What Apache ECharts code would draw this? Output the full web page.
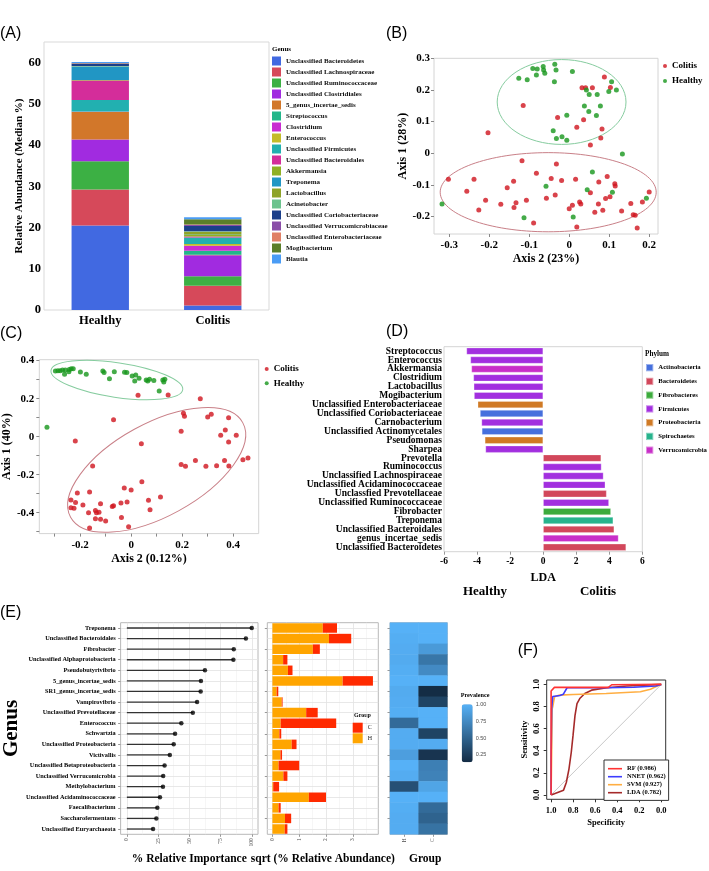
<!DOCTYPE html>
<html>
<head>
<meta charset="utf-8">
<script src="https://cdn.jsdelivr.net/npm/echarts@6/dist/echarts.min.js"></script>
<style>
  html, body { margin: 0; padding: 0; background: #fff; }
  #chart { width: 709px; height: 871px; }
</style>
</head>
<body>
<div id="chart"></div>
<script>
// (A) median relative abundance per genus
const groupsA = ['Healthy', 'Colitis']
const genusA = ['Unclassified Bacteroidetes', 'Unclassified Lachnospiraceae', 'Unclassified Ruminococcaceae',
  'Unclassified Clostridiales', '5_genus_incertae_sedis', 'Streptococcus', 'Clostridium', 'Enterococcus',
  'Unclassified Firmicutes', 'Unclassified Bacteroidales', 'Akkermansia', 'Treponema', 'Lactobacillus',
  'Acinetobacter', 'Unclassified Coriobacteriaceae', 'Unclassified Verrucomicrobiaceae',
  'Unclassified Enterobacteriaceae', 'Mogibacterium', 'Blautia']
const healthyA = [20.5, 8.7, 6.85, 5.3, 6.7, 0.05, 0.05, 0.02, 2.75, 4.75, 0.1, 3.3, 0.05, 0.05, 0.5, 0.1, 0.05, 0.1, 0.2]
const colitisA = [1.1, 4.8, 2.3, 5.1, 0.1, 1.0, 1.2, 0.4, 1.6, 0.25, 0.5, 0.1, 0.5, 0.15, 1.3, 0.2, 0.15, 1.25, 0.5]
const ticksA = [0, 10, 20, 30, 40, 50, 60]

// (B) PCoA, axis 2 vs axis 1
const colitisB = [[0.088, 0.241], [0.032, 0.207], [0.041, 0.207], [0.058, 0.207], [0.103, 0.208], [-0.115, 0.151],
  [-0.029, 0.113], [0.036, 0.106], [0.019, 0.082], [0.082, 0.077], [0.079, 0.048], [-0.203, 0.065], [0.053, 0.026],
  [-0.118, -0.024], [-0.032, -0.034], [-0.082, -0.063], [-0.302, -0.082], [-0.238, -0.082], [-0.139, -0.088],
  [-0.045, -0.080], [-0.019, -0.086], [0.016, -0.082], [0.095, -0.073], [0.074, -0.091], [0.114, -0.096],
  [0.115, -0.103], [-0.256, -0.120], [-0.155, -0.109], [0.053, -0.125], [0.102, -0.137], [0.091, -0.143],
  [0.200, -0.122], [-0.209, -0.148], [-0.133, -0.156], [-0.171, -0.161], [-0.138, -0.171], [-0.107, -0.148],
  [-0.057, -0.142], [-0.035, -0.132], [0.026, -0.154], [0.029, -0.160], [0.008, -0.164], [0.000, -0.175],
  [0.073, -0.160], [0.084, -0.180], [0.064, -0.186], [0.154, -0.159], [0.183, -0.154], [-0.226, -0.179],
  [-0.089, -0.220], [0.019, -0.233], [0.131, -0.182], [0.160, -0.194], [0.165, -0.196], [0.170, -0.236]]
const healthyB = [[-0.126, 0.237], [-0.105, 0.232], [-0.091, 0.268], [-0.080, 0.266], [-0.082, 0.247],
  [-0.065, 0.274], [-0.064, 0.263], [-0.061, 0.253], [-0.036, 0.281], [-0.033, 0.263], [-0.037, 0.226],
  [0.008, 0.258], [0.043, 0.200], [0.050, 0.186], [0.070, 0.186], [0.106, 0.226], [0.099, 0.195], [0.118, 0.200],
  [0.038, 0.149], [0.049, 0.132], [0.078, 0.149], [0.068, 0.119], [-0.006, 0.120], [-0.040, 0.071],
  [-0.032, 0.047], [-0.018, 0.052], [-0.006, 0.041], [0.133, -0.002], [0.058, -0.059], [-0.058, -0.104],
  [0.045, -0.115], [0.108, -0.123], [0.193, -0.142], [-0.318, -0.160], [-0.113, -0.204], [0.010, -0.201]]
// ellipse: centre x, centre y, half-axis (x units), half-axis (y units), rotation in degrees
const ellipseHealthyB = [-0.019, 0.162, 0.161, 0.134, 0]
const ellipseColitisB = [-0.0525, -0.123, 0.27, 0.125, 0]
const ticksBx = [-0.3, -0.2, -0.1, 0, 0.1, 0.2]
const ticksBy = [-0.2, -0.1, 0, 0.1, 0.2, 0.3]

// (C) second ordination
const colitisC = [[0.027, 0.218], [0.145, 0.219], [0.271, 0.200], [0.205, 0.123], [0.209, 0.107], [0.300, 0.104],
  [0.314, 0.118], [0.382, 0.100], [-0.069, 0.089], [-0.219, -0.023], [0.196, 0.028], [0.351, 0.007], [0.369, 0.035],
  [0.412, 0.007], [0.382, -0.028], [0.040, -0.037], [-0.151, -0.154], [0.196, -0.146], [0.213, -0.156],
  [0.252, -0.125], [0.293, -0.156], [0.335, -0.153], [0.366, -0.125], [0.383, -0.154], [0.438, -0.121],
  [0.458, -0.112], [0.042, -0.237], [-0.211, -0.296], [-0.163, -0.291], [-0.027, -0.270], [0.000, -0.281],
  [-0.236, -0.333], [-0.218, -0.347], [-0.236, -0.374], [-0.224, -0.377], [-0.189, -0.360], [-0.120, -0.353],
  [-0.016, -0.344], [-0.040, -0.349], [-0.069, -0.363], [-0.074, -0.368], [0.068, -0.335], [0.115, -0.318],
  [0.074, -0.384], [-0.167, -0.400], [-0.140, -0.388], [-0.136, -0.400], [-0.126, -0.398], [-0.140, -0.432],
  [-0.120, -0.435], [-0.100, -0.444], [-0.038, -0.425], [-0.163, -0.481], [-0.010, -0.474]]
const healthyC = [[-0.330, 0.049], [-0.297, 0.346], [-0.287, 0.347], [-0.278, 0.347], [-0.269, 0.351],
  [-0.261, 0.328], [-0.258, 0.351], [-0.244, 0.342], [-0.243, 0.354], [-0.235, 0.358], [-0.227, 0.358],
  [-0.199, 0.340], [-0.176, 0.328], [-0.111, 0.346], [-0.106, 0.337], [-0.085, 0.305], [-0.066, 0.342],
  [-0.026, 0.339], [-0.017, 0.337], [0.004, 0.319], [0.014, 0.293], [0.018, 0.325], [0.031, 0.307], [0.059, 0.298],
  [0.065, 0.293], [0.072, 0.302], [0.089, 0.296], [0.124, 0.298], [0.128, 0.288], [0.132, 0.302], [0.110, 0.240]]
const ellipseHealthyC = [-0.056, 0.298, 0.261, 0.091, -8.4]
const ellipseColitisC = [0.100, -0.175, 0.385, 0.244, 28.8]
const ticksCx = [-0.3, -0.2, -0.1, 0, 0.1, 0.2, 0.3, 0.4]
const labelsCx = [-0.2, 0, 0.2, 0.4]
const ticksCy = [-0.5, -0.4, -0.3, -0.2, -0.1, 0, 0.1, 0.2, 0.3, 0.4]
const labelsCy = [-0.4, -0.2, 0, 0.2, 0.4]

// (D) LEfSe LDA scores
const taxaD = ['Streptococcus', 'Enterococcus', 'Akkermansia', 'Clostridium', 'Lactobacillus', 'Mogibacterium',
  'Unclassified Enterobacteriaceae', 'Unclassified Coriobacteriaceae', 'Carnobacterium',
  'Unclassified Actinomycetales', 'Pseudomonas', 'Sharpea', 'Prevotella', 'Ruminococcus',
  'Unclassified Lachnospiraceae', 'Unclassified Acidaminococcaceae', 'Unclassfied Prevotellaceae',
  'Unclassified Ruminococcaceae', 'Fibrobacter', 'Treponema', 'Unclassified Bacteroidales',
  'genus_incertae_sedis', 'Unclassified Bacteroidetes']
const ldaD = [-4.64, -4.40, -4.34, -4.22, -4.20, -4.18, -3.96, -3.82, -3.73, -3.71, -3.53, -3.49,
  3.51, 3.53, 3.65, 3.76, 3.84, 3.98, 4.10, 4.24, 4.30, 4.56, 5.02]
const phylumD = ['Firmicutes', 'Firmicutes', 'Verrucomicrobia', 'Firmicutes', 'Firmicutes', 'Firmicutes',
  'Proteobacteria', 'Actinobacteria', 'Firmicutes', 'Actinobacteria', 'Proteobacteria', 'Firmicutes',
  'Bacteroidetes', 'Firmicutes', 'Firmicutes', 'Firmicutes', 'Bacteroidetes', 'Firmicutes', 'Fibrobacteres',
  'Spirochaetes', 'Bacteroidetes', 'Verrucomicrobia', 'Bacteroidetes']
const phyla = ['Actinobacteria', 'Bacteroidetes', 'Fibrobacteres', 'Firmicutes', 'Proteobacteria',
  'Spirochaetes', 'Verrucomicrobia']
const ticksD = [-6, -4, -2, 0, 2, 4, 6]

// (E) random forest importance, abundance and prevalence
const genusE = ['Treponema', 'Unclassified Bacteroidales', 'Fibrobacter', 'Unclassified Alphaprotobacteria',
  'Pseudobutyrivibrio', '5_genus_incertae_sedis', 'SR1_genus_incertae_sedis', 'Vampirovibrio',
  'Unclassified Prevotellaceae', 'Enterococcus', 'Schwartzia', 'Unclassified Proteobacteria', 'Victivallis',
  'Unclassified Betaproteobacteria', 'Unclassified Verrucomicrobia', 'Methylobacterium',
  'Unclassified Acidaminococcaceae', 'Faecalibacterium', 'Saccharofermentans', 'Unclassified Euryarchaeota']
const importanceE = [100, 95.3, 85.6, 85.3, 62.5, 59.3, 59.1, 56.2, 52.8, 43.6, 38.6, 37.5, 34.4, 30.2, 29.1,
  28.9, 26.5, 24.4, 23.6, 21.0]
const abundH = [1.88, 2.11, 1.51, 0.40, 0.58, 2.62, 0.16, 0.35, 1.26, 0.31, 0.26, 0.72, 0.30, 0.23, 0.41, 0.03,
  1.36, 0.23, 0.47, 0.46]
const abundC = [0.53, 0.83, 0.26, 0.16, 0.17, 1.13, 0.06, 0.03, 0.43, 2.07, 0.07, 0.18, 0.06, 0.77, 0.15, 0.22,
  0.64, 0.08, 0.23, 0.10]
const prevH = [1.0, 0.98, 0.97, 0.96, 0.98, 1.0, 0.96, 0.97, 0.98, 0.55, 0.97, 0.97, 0.88, 1.0, 0.97, 0.38, 1.0,
  0.98, 0.97, 0.97]
const prevC = [1.0, 1.0, 0.85, 0.62, 0.75, 1.0, 0.15, 0.3, 1.0, 1.0, 0.3, 0.97, 0.2, 0.68, 0.7, 0.92, 1.0, 0.55,
  0.5, 0.6]
const groupsE = ['H', 'C']
const ticksImp = [0, 25, 50, 75, 100]
const minorImp = [12.5, 37.5, 62.5, 87.5]
const ticksAbund = [0, 1, 2, 3]
const minorAbund = [0.5, 1.5, 2.5, 3.5]
const ticksPrev = [0.25, 0.5, 0.75, 1.0]

// (F) ROC curves: specificity / sensitivity
const rfSpec = [1.0, 1.0, 0.97, 0.48, 0.45, 0.0]
const rfSens = [0, 0.94, 0.973, 0.973, 0.997, 1.0]
const nnetSpec = [1.0, 1.0, 0.995, 0.985, 0.92, 0.89, 0.855, 0.5, 0.25, 0.05, 0.0]
const nnetSens = [0, 0.3, 0.78, 0.89, 0.90, 0.91, 0.97, 0.97, 0.975, 0.985, 1.0]
const svmSpec = [1.0, 0.99, 0.985, 0.972, 0.969, 0.924, 0.80, 0.5, 0.19, 0.098, 0.037, 0.0]
const svmSens = [0, 0.78, 0.80, 0.805, 0.888, 0.903, 0.909, 0.918, 0.933, 0.957, 0.985, 1.0]
const ldaSpec = [1.0, 0.887, 0.862, 0.838, 0.817, 0.801, 0.783, 0.765, 0.740, 0.694, 0.633, 0.495, 0.312, 0.0]
const ldaSens = [0, 0.043, 0.112, 0.234, 0.386, 0.538, 0.720, 0.827, 0.872, 0.918, 0.948, 0.970, 0.985, 1.0]
const diagSpec = [1, 0]
const diagSens = [0, 1]
const rocNames = ['RF (0.986)', 'NNET (0.962)', 'SVM (0.927)', 'LDA (0.782)']
const ticksF = [0, 0.2, 0.4, 0.6, 0.8, 1.0]

const SERIF = 'Liberation Serif'
const SANS = 'Liberation Sans'
const genusColors = ['#4169e1', '#d6495a', '#3cb044', '#a12be0', '#d2772a', '#22b68a', '#c92cd1', '#c4bc2a',
  '#22b0b0', '#d42d9a', '#8fb024', '#2196c4', '#8ea328', '#6cc38e', '#1b3f8a', '#8a4ea8', '#e08066', '#5b7f2a',
  '#4a9cf5']
const phylaColors = ['#4670dd', '#d2475b', '#3cab3c', '#a22fdf', '#d07a25', '#27b38c', '#c82fc8']
const RED = '#d0141e'
const GREEN = '#17961c'

const bold = (size, extra) => Object.assign({ fontFamily: SERIF, fontWeight: 'bold', fontSize: size, color: '#000' }, extra)
const pairs = (xs, ys) => xs.map((x, i) => [x, ys[i]])

function text(str, x, y, size, extra) {
  return {
    type: 'text', x, y, silent: true,
    style: Object.assign({ text: str, fontFamily: SERIF, fontWeight: 'bold', fontSize: size, fill: '#000',
      align: 'left', verticalAlign: 'middle' }, extra),
  }
}

function ellipseSeries(ell, color, idx) {
  return {
    type: 'custom', xAxisIndex: idx, yAxisIndex: idx, silent: true, z: 1,
    data: [ell],
    renderItem: (params, api) => {
      const c = api.coord([api.value(0), api.value(1)])
      const s = api.size([api.value(2), api.value(3)])
      return {
        type: 'ellipse', x: c[0], y: c[1], rotation: api.value(4) * Math.PI / 180,
        shape: { cx: 0, cy: 0, rx: s[0], ry: s[1] },
        style: { fill: 'none', stroke: color, lineWidth: 1 },
      }
    },
  }
}

// light ggplot-like grid drawn under the bars
function gridLines(idx, major, minor, rows) {
  const data = []
  minor.forEach(v => data.push({ xAxis: v, lineStyle: { color: '#f0f0f0', width: 0.6 } }))
  major.forEach(v => data.push({ xAxis: v, lineStyle: { color: '#e2e2e2', width: 0.8 } }))
  rows.forEach(r => data.push({ yAxis: r, lineStyle: { color: '#e2e2e2', width: 0.8 } }))
  return {
    type: 'line', xAxisIndex: idx, yAxisIndex: idx, data: [], silent: true, z: 0,
    markLine: { silent: true, z: 0, symbol: 'none', label: { show: false }, lineStyle: { type: 'solid' }, data },
  }
}

function valueAxis(idx, min, max, ticks, labels, extra) {
  return Object.assign({
    type: 'value', gridIndex: idx, min, max,
    axisLine: { show: false, onZero: false },
    splitLine: { show: false },
    axisTick: { show: true, customValues: ticks, length: 3, lineStyle: { color: '#888' } },
    axisLabel: { customValues: labels, ...bold(11), margin: 6 },
  }, extra)
}

const chart = echarts.init(document.getElementById('chart'))

const series = []

// A
genusA.forEach((g, i) => series.push({
  name: g, type: 'bar', stack: 'a', xAxisIndex: 0, yAxisIndex: 0, barWidth: '51%',
  itemStyle: { color: genusColors[i] }, data: [healthyA[i], colitisA[i]],
}))

// B and C scatter
series.push(
  { name: 'Colitis', type: 'scatter', xAxisIndex: 1, yAxisIndex: 1, symbolSize: 5, itemStyle: { color: RED }, data: colitisB, z: 3 },
  { name: 'Healthy', type: 'scatter', xAxisIndex: 1, yAxisIndex: 1, symbolSize: 5, itemStyle: { color: GREEN }, data: healthyB, z: 3 },
  ellipseSeries(ellipseHealthyB, '#86cc9f', 1),
  ellipseSeries(ellipseColitisB, '#c98088', 1),
  { name: 'Colitis', type: 'scatter', xAxisIndex: 2, yAxisIndex: 2, symbolSize: 5, itemStyle: { color: RED }, data: colitisC, z: 3 },
  { name: 'Healthy', type: 'scatter', xAxisIndex: 2, yAxisIndex: 2, symbolSize: 5, itemStyle: { color: GREEN }, data: healthyC, z: 3 },
  ellipseSeries(ellipseHealthyC, '#86cc9f', 2),
  ellipseSeries(ellipseColitisC, '#c98088', 2),
)

// D: one series per phylum so the legend follows
phyla.forEach((p, k) => series.push({
  name: p, type: 'bar', stack: 'd', xAxisIndex: 3, yAxisIndex: 3, barWidth: 7,
  itemStyle: { color: phylaColors[k], borderColor: 'rgba(255,255,255,0.45)', borderWidth: 0.6 },
  data: ldaD.map((v, i) => (phylumD[i] === p ? v : '-')),
}))

// E left: lollipops
series.push(
  gridLines(4, ticksImp, minorImp, genusE),
  { name: 'stem', type: 'bar', xAxisIndex: 4, yAxisIndex: 4, barWidth: 1.3, itemStyle: { color: '#333' }, data: importanceE, z: 2 },
  { name: 'dot', type: 'scatter', xAxisIndex: 4, yAxisIndex: 4, symbolSize: 4.5, itemStyle: { color: '#000' },
    data: importanceE.map((v, i) => [v, genusE[i]]), z: 3 },
)

// E middle: stacked abundance
series.push(
  gridLines(5, ticksAbund, minorAbund, genusE),
  { name: 'H', type: 'bar', stack: 'e', xAxisIndex: 5, yAxisIndex: 5, barCategoryGap: '10%', itemStyle: { color: '#ffa500' }, data: abundH, z: 2 },
  { name: 'C', type: 'bar', stack: 'e', xAxisIndex: 5, yAxisIndex: 5, barCategoryGap: '10%', itemStyle: { color: '#ff2a00' }, data: abundC, z: 2 },
)

// E right: prevalence heatmap
const heatIndex = series.length
series.push({
  type: 'heatmap', xAxisIndex: 6, yAxisIndex: 6, silent: true,
  data: genusE.flatMap((g, i) => [[0, i, prevH[i]], [1, i, prevC[i]]]),
})

// F: ROC
series.push({
  type: 'line', xAxisIndex: 7, yAxisIndex: 7, symbol: 'none', silent: true, z: 1,
  lineStyle: { color: '#c8c8c8', width: 1 }, itemStyle: { color: '#c8c8c8' }, data: pairs(diagSpec, diagSens),
})
const rocCurves = [[rfSpec, rfSens, '#ff3333'], [nnetSpec, nnetSens, '#3d3dff'], [svmSpec, svmSens, '#ffae42'], [ldaSpec, ldaSens, '#a52a2a']]
rocCurves.slice().reverse().forEach((c, k) => {
  const i = rocCurves.length - 1 - k
  series.push({
    name: rocNames[i], type: 'line', xAxisIndex: 7, yAxisIndex: 7, symbol: 'none', z: 2 + k,
    lineStyle: { color: c[2], width: 1.6 }, itemStyle: { color: c[2] }, data: pairs(c[0], c[1]),
  })
})

const option = {
  animation: false,
  backgroundColor: '#fff',
  grid: [
    { left: 44, top: 42, width: 225, height: 268, show: true, borderColor: '#d9d9d9', borderWidth: 1 },
    { left: 434, top: 58.3, width: 224, height: 175.7, show: true, borderColor: '#d4d4d4', borderWidth: 1 },
    { left: 38.5, top: 359.7, width: 220.2, height: 173.9, show: true, borderColor: '#d4d4d4', borderWidth: 1 },
    { left: 444, top: 346.7, width: 198.3, height: 205, show: true, borderColor: '#d4d4d4', borderWidth: 1 },
    { left: 118.3, top: 622.7, width: 139.7, height: 211.6, show: true, borderColor: '#b8b8b8', borderWidth: 1 },
    { left: 267.3, top: 622.7, width: 111, height: 211.6, show: true, borderColor: '#b8b8b8', borderWidth: 1 },
    { left: 390, top: 622.7, width: 57.3, height: 211.6, show: true, borderColor: '#b8b8b8', borderWidth: 1 },
    { left: 546.7, top: 680, width: 119, height: 119.3, show: true, borderColor: '#333', borderWidth: 1 },
    { left: 461.7, top: 704.3, width: 11, height: 58 },
  ],
  xAxis: [
    { type: 'category', gridIndex: 0, data: groupsA, axisLine: { show: false }, axisTick: { show: false },
      axisLabel: bold(12.5, { margin: 4 }) },
    valueAxis(1, -0.338, 0.222, ticksBx, ticksBx, {
      name: 'Axis 2 (23%)', nameLocation: 'middle', nameGap: 19, nameTextStyle: bold(12) }),
    valueAxis(2, -0.36, 0.50, ticksCx, labelsCx, {
      name: 'Axis 2 (0.12%)', nameLocation: 'middle', nameGap: 19, nameTextStyle: bold(12) }),
    valueAxis(3, -6, 6, ticksD, ticksD, {
      axisTick: { show: true, customValues: ticksD, length: 3, lineStyle: { color: '#999' } },
      axisLabel: { customValues: ticksD, ...bold(9.5), margin: 5 },
      name: 'LDA', nameLocation: 'middle', nameGap: 20, nameTextStyle: bold(12) }),
    valueAxis(4, -5, 105, ticksImp, ticksImp, {
      axisTick: { show: true, customValues: ticksImp, length: 2.5, lineStyle: { color: '#999' } },
      axisLabel: { customValues: ticksImp, fontFamily: SERIF, fontSize: 5.5, color: '#4d4d4d', rotate: 90, margin: 4 },
      name: '% Relative Importance', nameLocation: 'middle', nameGap: 19, nameTextStyle: bold(11.5) }),
    valueAxis(5, -0.19, 3.95, ticksAbund, ticksAbund, {
      axisTick: { show: true, customValues: ticksAbund, length: 2.5, lineStyle: { color: '#999' } },
      axisLabel: { customValues: ticksAbund, fontFamily: SERIF, fontSize: 5.5, color: '#4d4d4d', rotate: 90, margin: 4 },
      name: 'sqrt (% Relative Abundance)', nameLocation: 'middle', nameGap: 19, nameTextStyle: bold(11.5) }),
    { type: 'category', gridIndex: 6, data: groupsE, axisLine: { show: false },
      axisTick: { show: true, alignWithLabel: true, length: 2.5, lineStyle: { color: '#999' } },
      axisLabel: { fontFamily: SERIF, fontSize: 5.5, color: '#4d4d4d', rotate: 90, margin: 4 },
      name: 'Group', nameLocation: 'middle', nameGap: 19, nameTextStyle: bold(11.5, { padding: [0, 0, 0, 13] }) },
    valueAxis(7, -0.04, 1.04, ticksF, ticksF, {
      inverse: true,
      axisTick: { show: true, customValues: ticksF, length: 3, lineStyle: { color: '#333' } },
      axisLabel: { customValues: ticksF, ...bold(8.5), margin: 7, formatter: v => v.toFixed(1) },
      name: 'Specificity', nameLocation: 'middle', nameGap: 19, nameTextStyle: bold(8.5) }),
    { type: 'value', gridIndex: 8, show: false },
  ],
  yAxis: [
    { type: 'value', gridIndex: 0, min: 0, max: 65, axisLine: { show: false }, axisTick: { show: false },
      splitLine: { show: false }, axisLabel: { customValues: ticksA, ...bold(12.5), margin: 3 },
      name: 'Relative Abundance (Median %)', nameLocation: 'middle', nameGap: 19, nameTextStyle: bold(11) },
    valueAxis(1, -0.255, 0.3, ticksBy, ticksBy, {
      axisLabel: { customValues: ticksBy, ...bold(11), margin: 4 },
      name: 'Axis 1 (28%)', nameLocation: 'middle', nameGap: 25, nameTextStyle: bold(12) }),
    valueAxis(2, -0.51, 0.405, ticksCy, labelsCy, {
      axisLabel: { customValues: labelsCy, ...bold(11), margin: 5 },
      name: 'Axis 1 (40%)', nameLocation: 'middle', nameGap: 25, nameTextStyle: bold(12) }),
    { type: 'category', gridIndex: 3, data: taxaD, inverse: true, axisLine: { show: false, onZero: false },
      axisTick: { show: false }, axisLabel: { interval: 0, ...bold(9.5), margin: 2 } },
    { type: 'category', gridIndex: 4, data: genusE, inverse: true, axisLine: { show: false, onZero: false },
      axisTick: { show: true, alignWithLabel: true, length: 2.5, lineStyle: { color: '#999' } },
      axisLabel: { interval: 0, ...bold(6.3), margin: 5 },
      name: 'Genus', nameLocation: 'middle', nameGap: 90, nameTextStyle: bold(21) },
    { type: 'category', gridIndex: 5, data: genusE, inverse: true, axisLine: { show: false, onZero: false },
      axisTick: { show: true, alignWithLabel: true, length: 2.5, lineStyle: { color: '#999' } },
      axisLabel: { show: false } },
    { type: 'category', gridIndex: 6, data: genusE, inverse: true, axisLine: { show: false, onZero: false },
      axisTick: { show: true, alignWithLabel: true, length: 2.5, lineStyle: { color: '#999' } },
      axisLabel: { show: false } },
    valueAxis(7, -0.04, 1.04, ticksF, ticksF, {
      axisTick: { show: true, customValues: ticksF, length: 3, lineStyle: { color: '#333' } },
      axisLabel: { customValues: ticksF, ...bold(8.5), margin: 5, rotate: 90, formatter: v => v.toFixed(1) },
      name: 'Sensitivity', nameLocation: 'middle', nameGap: 17, nameTextStyle: bold(8.5) }),
    { type: 'value', gridIndex: 8, position: 'right', min: 0.14, max: 1, axisLine: { show: false, onZero: false },
      axisTick: { show: false }, splitLine: { show: false },
      axisLabel: { customValues: ticksPrev, fontFamily: SANS, fontSize: 5.5, color: '#4d4d4d', margin: 3,
        formatter: v => v.toFixed(2) } },
  ],
  legend: [
    { data: genusA, orient: 'vertical', left: 272, top: 56.5, icon: 'rect', itemWidth: 9, itemHeight: 9,
      itemGap: 2, itemTextGap: 2, padding: 0, selectedMode: false,
      textStyle: bold(7, { color: '#111', lineHeight: 9 }) },
    { data: ['Colitis', 'Healthy'], orient: 'vertical', left: 663, top: 61, icon: 'circle', itemWidth: 4,
      itemHeight: 4, itemGap: 5, itemTextGap: 3, padding: 0, selectedMode: false,
      textStyle: bold(9, { lineHeight: 10 }) },
    { data: ['Colitis', 'Healthy'], orient: 'vertical', left: 264.7, top: 364, icon: 'circle', itemWidth: 4,
      itemHeight: 4, itemGap: 4.3, itemTextGap: 3, padding: 0, selectedMode: false,
      textStyle: bold(9, { lineHeight: 10 }) },
    { data: phyla, orient: 'vertical', left: 645, top: 363, icon: 'rect', itemWidth: 7.3, itemHeight: 7.3,
      itemGap: 4.45, itemTextGap: 2, padding: 0, selectedMode: false,
      textStyle: bold(6.7, { lineHeight: 8 }) },
    { data: ['C', 'H'], orient: 'vertical', left: 352.7, top: 722.7, icon: 'rect', itemWidth: 10, itemHeight: 10,
      itemGap: 0.6, itemTextGap: 5, padding: 0, selectedMode: false,
      textStyle: { fontFamily: SERIF, fontSize: 6, color: '#222', lineHeight: 10 } },
    { data: rocNames, orient: 'vertical', left: 604, top: 760, icon: 'rect', itemWidth: 14, itemHeight: 1.6,
      itemGap: 0.6, itemTextGap: 4, padding: [5, 3, 4, 4], borderColor: '#333', borderWidth: 1,
      backgroundColor: '#fff', selectedMode: false, textStyle: bold(6.5, { lineHeight: 7.4 }) },
  ],
  visualMap: {
    type: 'continuous', seriesIndex: heatIndex, dimension: 2, min: 0.14, max: 1, calculable: false,
    inRange: { color: ['#132b43', '#56b1f7'] }, left: 461.7, top: 704.3, itemWidth: 11, itemHeight: 58,
    padding: 0, text: null, showLabel: false, hoverLink: false,
  },
  graphic: [
    text('(A)', 0, 34, 16, { fontFamily: SANS, fontWeight: 'normal' }),
    text('(B)', 386, 34, 16, { fontFamily: SANS, fontWeight: 'normal' }),
    text('(C)', 0, 334, 16, { fontFamily: SANS, fontWeight: 'normal' }),
    text('(D)', 386, 332, 16, { fontFamily: SANS, fontWeight: 'normal' }),
    text('(E)', 0, 612.5, 16, { fontFamily: SANS, fontWeight: 'normal' }),
    text('(F)', 517.7, 650.7, 16, { fontFamily: SANS, fontWeight: 'normal' }),
    text('Genus', 272, 49, 7),
    text('Phylum', 645, 354, 7.2),
    text('Healthy', 485, 592, 13, { align: 'center' }),
    text('Colitis', 598, 592, 13, { align: 'center' }),
    text('Group', 354, 715, 6),
    text('Prevalence', 460.7, 695, 6.2),
  ],
  series,
}

chart.setOption(option)
</script>
</body>
</html>
